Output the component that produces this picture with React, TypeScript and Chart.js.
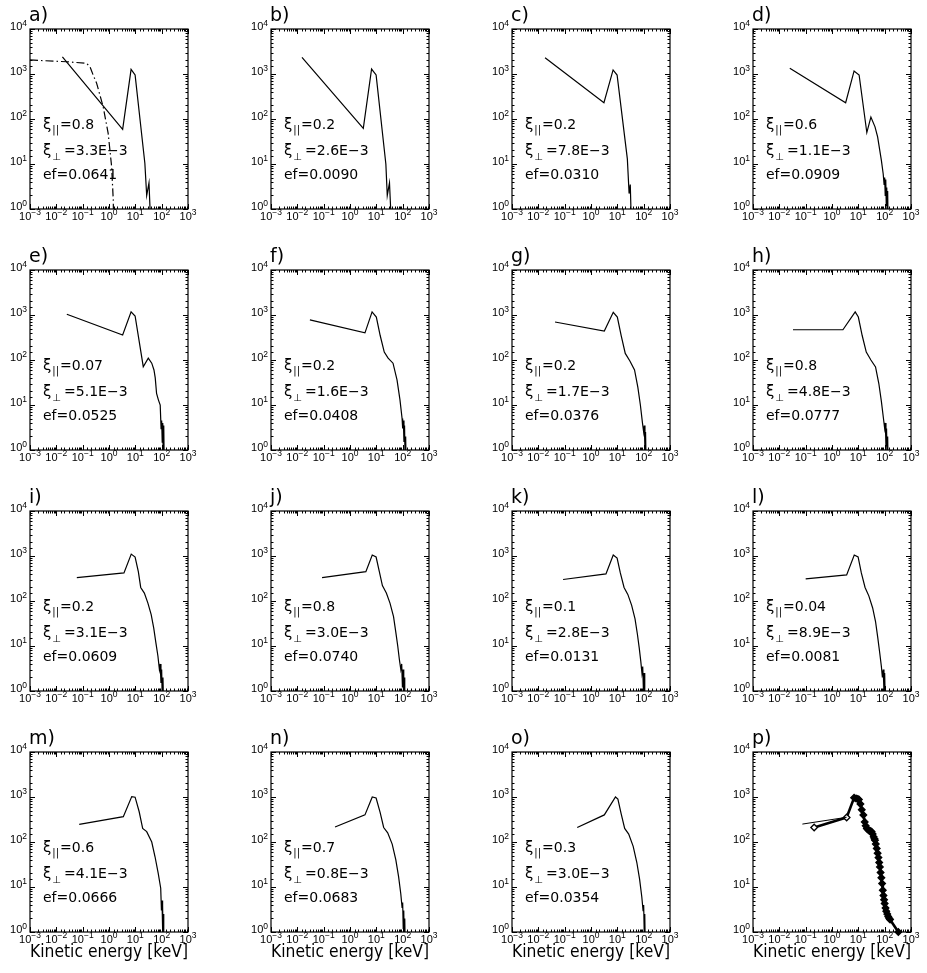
import React, { useEffect, useRef } from 'react';
import { Chart, registerables } from 'chart.js';

Chart.register(...registerables);

// ---- panel annotations ----
const panelLetters = ['a)', 'b)', 'c)', 'd)', 'e)', 'f)', 'g)', 'h)', 'i)', 'j)', 'k)', 'l)', 'm)', 'n)', 'o)', 'p)'];
const xiParallel = ['0.8', '0.2', '0.2', '0.6', '0.07', '0.2', '0.2', '0.8', '0.2', '0.8', '0.1', '0.04', '0.6', '0.7', '0.3', ''];
const xiPerp = ['3.3E−3', '2.6E−3', '7.8E−3', '1.1E−3', '5.1E−3', '1.6E−3', '1.7E−3', '4.8E−3', '3.1E−3', '3.0E−3', '2.8E−3', '8.9E−3', '4.1E−3', '0.8E−3', '3.0E−3', ''];
const efficiency = ['0.0641', '0.0090', '0.0310', '0.0909', '0.0525', '0.0408', '0.0376', '0.0777', '0.0609', '0.0740', '0.0131', '0.0081', '0.0666', '0.0683', '0.0354', ''];

// ---- axis tick labels (base 10 with exponent) ----
const tickBase = '10';
const xTickExponents = [-3, -2, -1, 0, 1, 2, 3];
const xTickExpText = ['−3', '−2', '−1', '0', '1', '2', '3'];
const yTickExponents = [0, 1, 2, 3, 4];
const yTickExpText = ['0', '1', '2', '3', '4'];
const xAxisTitle = 'Kinetic energy [keV]';

// ---- spectra: energy [keV] and counts ----
const aEnergy = [0.017, 3.3, 6.9, 9.8, 23, 27, 33, 38];
const aCounts = [2400, 59, 1270, 950, 10.4, 2.0, 3.8, 0.5];
const aModelEnergy = [0.001, 0.025, 0.14, 0.19, 0.25, 0.34, 0.6, 0.93, 1.26, 1.45, 1.5];
const aModelCounts = [2050, 1870, 1730, 1450, 950, 620, 187, 48, 8.7, 1.6, 0.5];

const bEnergy = [0.015, 3.2, 6.6, 9.8, 23, 26, 31.6, 37];
const bCounts = [2350, 62, 1290, 950, 10, 2, 3.8, 0.5];

const cEnergy = [0.018, 3.1, 6.9, 9.8, 24, 28, 31, 34];
const cCounts = [2300, 230, 1230, 950, 13, 2.2, 3.5, 0.5];

const dEnergy = [0.025, 3.3, 6.9, 10.7, 21, 30, 43, 54, 75, 88, 95, 100, 105, 110, 115, 120, 125, 130, 135];
const dCounts = [1340, 230, 1170, 950, 50, 110, 67, 40, 12, 6, 3.5, 5, 2, 4.5, 1.2, 3, 0.5, 2.5, 0.5];

const eEnergy = [0.025, 3.3, 6.9, 9.8, 20, 31, 42, 51, 57, 64, 75, 88, 95, 100, 105, 110, 115, 120, 125];
const eCounts = [1040, 360, 1180, 950, 71, 110, 85, 60, 40, 18, 13, 10, 3, 4.5, 1.5, 4, 0.5, 3.5, 0.5];

const fEnergy = [0.03, 3.7, 6.9, 10, 14, 20, 28, 43, 61, 79, 95, 100, 106, 112, 118, 124, 130, 135];
const fCounts = [780, 400, 1170, 900, 350, 150, 110, 85, 36, 13, 5, 3, 4.5, 1.5, 3.5, 0.5, 2, 0.5];

const gEnergy = [0.043, 3.2, 7, 10, 14, 20, 30, 45, 60, 75, 90, 100, 106, 112, 118, 124];
const gCounts = [700, 440, 1150, 900, 350, 140, 95, 60, 25, 10, 4, 2.5, 3.5, 1, 2.5, 0.5];

const hEnergy = [0.033, 2.6, 7.6, 10, 14, 20, 30, 45, 60, 75, 90, 100, 106, 112, 118, 124, 130, 135];
const hCounts = [470, 470, 1170, 900, 350, 150, 100, 70, 30, 12, 5, 3, 4, 1.2, 3, 0.5, 2, 0.5];

const iEnergy = [0.06, 3.7, 7, 9.8, 13, 16, 22, 30, 40, 50, 60, 72, 82, 88, 94, 100, 106, 112, 118];
const iCounts = [330, 420, 1100, 950, 450, 200, 150, 90, 50, 25, 12, 6, 3, 4, 1.5, 3, 0.5, 2, 0.5];

const jEnergy = [0.087, 4, 7, 9.8, 13, 17, 24, 33, 45, 55, 65, 75, 85, 92, 98, 104, 110, 115, 120];
const jCounts = [330, 450, 1050, 950, 450, 220, 150, 90, 45, 20, 10, 5, 3, 4, 1.2, 3, 0.5, 2, 0.5];

const kEnergy = [0.087, 3.7, 7, 9.8, 13, 18, 25, 35, 47, 58, 68, 78, 86, 92, 98, 104, 110];
const kCounts = [300, 400, 1050, 900, 420, 200, 140, 80, 40, 18, 9, 4.5, 2.5, 3.5, 1, 2.5, 0.5];

const lEnergy = [0.1, 3.6, 7, 9.8, 13, 18, 25, 35, 45, 55, 65, 75, 82, 88, 94, 100, 106];
const lCounts = [310, 380, 1050, 950, 420, 200, 130, 70, 35, 15, 7, 3.5, 2, 3, 1, 2.5, 0.5];

const mEnergy = [0.074, 3.5, 7.3, 9.8, 14, 19, 27, 42, 56, 74, 92, 98, 103, 107, 110, 114, 118, 122];
const mCounts = [247, 365, 1020, 990, 470, 200, 170, 100, 47, 20, 9.4, 3, 5, 1.2, 4, 0.5, 2.5, 0.5];

const nEnergy = [0.27, 3.7, 7, 9.8, 14, 19, 27, 40, 55, 70, 85, 95, 100, 105, 110, 115, 120, 125];
const nCounts = [215, 400, 1000, 950, 450, 210, 160, 90, 40, 17, 7, 3.5, 4.5, 1.2, 3, 0.5, 2, 0.5];

const oEnergy = [0.3, 3.2, 8.5, 10.5, 14, 19, 27, 40, 55, 70, 85, 95, 100, 105, 110, 115];
const oCounts = [210, 400, 1000, 900, 420, 200, 150, 80, 35, 15, 6, 3, 4, 1, 2.5, 0.5];

const pModelEnergy = [0.075, 3.6];
const pModelCounts = [250, 354];
const pDataEnergy = [0.21, 3.6, 6.9, 8.2, 9.5, 10.5, 12, 13.5, 15.5, 17.5, 19, 21, 23, 25.5, 28, 30, 32, 35, 38, 41, 43, 46, 50, 54, 58, 62, 66, 70, 75, 80, 85, 90, 95, 100, 108, 115, 125, 136, 150, 160, 330];
const pDataCounts = [210, 350, 960, 930, 900, 880, 700, 520, 400, 280, 230, 200, 190, 180, 175, 172, 170, 150, 130, 118, 110, 90, 72, 56, 45, 35, 28, 21, 16, 12, 8.5, 6.5, 5.2, 4.3, 3.4, 2.9, 2.5, 2.2, 2, 1.9, 1];

type Kind = 'solid' | 'dashdot' | 'thin' | 'marked';
type Series = { energy: number[]; counts: number[]; kind: Kind };

const panelSeries: Series[][] = [
  [{ energy: aEnergy, counts: aCounts, kind: 'solid' }, { energy: aModelEnergy, counts: aModelCounts, kind: 'dashdot' }],
  [{ energy: bEnergy, counts: bCounts, kind: 'solid' }],
  [{ energy: cEnergy, counts: cCounts, kind: 'solid' }],
  [{ energy: dEnergy, counts: dCounts, kind: 'solid' }],
  [{ energy: eEnergy, counts: eCounts, kind: 'solid' }],
  [{ energy: fEnergy, counts: fCounts, kind: 'solid' }],
  [{ energy: gEnergy, counts: gCounts, kind: 'solid' }],
  [{ energy: hEnergy, counts: hCounts, kind: 'solid' }],
  [{ energy: iEnergy, counts: iCounts, kind: 'solid' }],
  [{ energy: jEnergy, counts: jCounts, kind: 'solid' }],
  [{ energy: kEnergy, counts: kCounts, kind: 'solid' }],
  [{ energy: lEnergy, counts: lCounts, kind: 'solid' }],
  [{ energy: mEnergy, counts: mCounts, kind: 'solid' }],
  [{ energy: nEnergy, counts: nCounts, kind: 'solid' }],
  [{ energy: oEnergy, counts: oCounts, kind: 'solid' }],
  [{ energy: pModelEnergy, counts: pModelCounts, kind: 'thin' }, { energy: pDataEnergy, counts: pDataCounts, kind: 'marked' }],
];

// ---- layout ----
const CELL = 241;
const CANVAS_W = 205;
const PLOT_LEFT = 30;
const PLOT_TOP = 29;
const PLOT_RIGHT = 188;
const PLOT_BOTTOM = 209;
const FONT = "'DejaVu Sans', 'Liberation Sans', sans-serif";
const TICK_FONT = "'Liberation Sans', 'DejaVu Sans', sans-serif";

const isDecade = (v: number) => {
  const e = Math.log10(v);
  return Math.abs(e - Math.round(e)) < 1e-6;
};

function datasetFor(s: Series) {
  const data = s.energy.map((e, i) => ({ x: e, y: s.counts[i] }));
  const base: any = {
    data,
    borderColor: '#000',
    borderWidth: 1.2,
    pointRadius: 0,
    tension: 0,
    fill: false,
  };
  if (s.kind === 'dashdot') base.borderDash = [8, 3, 1.5, 3];
  if (s.kind === 'thin') base.borderWidth = 1;
  if (s.kind === 'marked') {
    base.borderWidth = 2.6;
    base.pointRadius = 3.3;
    base.pointStyle = 'rectRot';
    // the first two (isolated) markers stay open, the dense run reads as solid
    base.pointBackgroundColor = data.map((_, i) => (i < 2 ? '#fff' : '#000'));
    base.pointBorderColor = '#000';
    base.pointBorderWidth = 1.3;
    base.clip = 6;
  }
  return base;
}

// Box frame with inward major/minor tick marks on all four sides
const frameTicks = {
  id: 'frameTicks',
  afterDraw(chart: any) {
    const { ctx, chartArea } = chart;
    const { left, right, top, bottom } = chartArea;
    const xs = chart.scales.x;
    const ys = chart.scales.y;
    ctx.save();
    ctx.strokeStyle = '#000';
    ctx.lineWidth = 1.2;
    ctx.strokeRect(left, top, right - left, bottom - top);
    ctx.lineWidth = 1;
    ctx.beginPath();
    for (const t of xs.ticks) {
      const px = Math.round(xs.getPixelForValue(t.value)) + 0.5;
      const len = isDecade(t.value) ? 5 : 2.5;
      ctx.moveTo(px, bottom);
      ctx.lineTo(px, bottom - len);
      ctx.moveTo(px, top);
      ctx.lineTo(px, top + len);
    }
    for (const t of ys.ticks) {
      const py = Math.round(ys.getPixelForValue(t.value)) + 0.5;
      const len = isDecade(t.value) ? 5 : 2.5;
      ctx.moveTo(left, py);
      ctx.lineTo(left + len, py);
      ctx.moveTo(right, py);
      ctx.lineTo(right - len, py);
    }
    ctx.stroke();
    ctx.restore();
  },
};

// Decade labels "10" with raised exponent, placed at the scales' decade positions
const decadeLabels = {
  id: 'decadeLabels',
  afterDraw(chart: any) {
    const { ctx, chartArea } = chart;
    const { left, bottom } = chartArea;
    const xs = chart.scales.x;
    const ys = chart.scales.y;
    const baseFont = `11px ${TICK_FONT}`;
    const expFont = `8.5px ${TICK_FONT}`;
    ctx.save();
    ctx.fillStyle = '#000';
    ctx.textBaseline = 'alphabetic';
    ctx.textAlign = 'left';
    ctx.font = baseFont;
    const wb = ctx.measureText(tickBase).width;

    xTickExponents.forEach((e, i) => {
      const px = xs.getPixelForValue(Math.pow(10, e));
      ctx.font = expFont;
      const we = ctx.measureText(xTickExpText[i]).width;
      const x0 = px - (wb + we) / 2;
      ctx.font = baseFont;
      ctx.fillText(tickBase, x0, bottom + 11);
      ctx.font = expFont;
      ctx.fillText(xTickExpText[i], x0 + wb, bottom + 6);
    });

    yTickExponents.forEach((e, i) => {
      const py = ys.getPixelForValue(Math.pow(10, e));
      ctx.font = expFont;
      const we = ctx.measureText(yTickExpText[i]).width;
      const xr = left - 3;
      ctx.fillText(yTickExpText[i], xr - we, py - 3.5);
      ctx.font = baseFont;
      ctx.fillText(tickBase, xr - we - wb, py + 1);
    });
    ctx.restore();
  },
};

function makeLabelPlugin(index: number) {
  return {
    id: 'panelText',
    afterDraw(chart: any) {
      const { ctx, chartArea } = chart;
      const { left, top } = chartArea;
      ctx.save();
      ctx.fillStyle = '#000';
      ctx.textBaseline = 'alphabetic';
      ctx.textAlign = 'left';
      ctx.font = `19px ${FONT}`;
      ctx.fillText(panelLetters[index], left - 1, top - 8);

      if (xiParallel[index]) {
        const x0 = left + 13;
        const big = `14px ${FONT}`;
        const small = `10px ${FONT}`;
        // line 1: xi parallel
        let y = top + 100;
        ctx.font = `15px ${FONT}`;
        ctx.fillText('ξ', x0, y);
        let x = x0 + ctx.measureText('ξ').width + 1;
        ctx.font = small;
        ctx.fillText('||', x, y + 4);
        x += ctx.measureText('||').width + 1;
        ctx.font = big;
        ctx.fillText('=' + xiParallel[index], x, y);
        // line 2: xi perpendicular
        y = top + 126;
        ctx.font = `15px ${FONT}`;
        ctx.fillText('ξ', x0, y);
        x = x0 + ctx.measureText('ξ').width + 1;
        ctx.font = small;
        ctx.fillText('⊥', x, y + 5);
        x += ctx.measureText('⊥').width + 3;
        ctx.font = big;
        ctx.fillText('=' + xiPerp[index], x, y);
        // line 3: efficiency
        y = top + 150;
        ctx.fillText('ef=' + efficiency[index], x0, y);
      }
      ctx.restore();
    },
  };
}

function Panel({ index }: { index: number }) {
  const ref = useRef<HTMLCanvasElement | null>(null);
  const row = Math.floor(index / 4);
  const col = index % 4;
  const lastRow = row === 3;
  const height = lastRow ? 250 : CELL;

  useEffect(() => {
    if (!ref.current) return;
    const xHeight = height - PLOT_BOTTOM;
    const chart = new Chart(ref.current, {
      type: 'line',
      data: { datasets: panelSeries[index].map(datasetFor) },
      plugins: [frameTicks, decadeLabels, makeLabelPlugin(index)],
      options: {
        animation: false,
        responsive: false,
        events: [],
        layout: { padding: { left: 0, top: PLOT_TOP, right: CANVAS_W - PLOT_RIGHT, bottom: 0 } },
        plugins: { legend: { display: false }, tooltip: { enabled: false }, title: { display: false } },
        scales: {
          x: {
            type: 'logarithmic',
            position: 'bottom',
            min: 0.001,
            max: 1000,
            grid: { display: false, drawTicks: false },
            border: { display: false },
            ticks: { display: false, autoSkip: false, maxRotation: 0 },
            title: lastRow
              ? { display: true, text: xAxisTitle, color: '#000', font: { family: FONT, size: 17 }, padding: { top: 0, bottom: 10 } }
              : { display: false },
            afterFit: (s: any) => {
              s.height = xHeight;
            },
          },
          y: {
            type: 'logarithmic',
            position: 'left',
            min: 1,
            max: 10000,
            grid: { display: false, drawTicks: false },
            border: { display: false },
            ticks: { display: false, autoSkip: false },
            afterFit: (s: any) => {
              s.width = PLOT_LEFT;
            },
          },
        },
      } as any,
    });
    return () => chart.destroy();
  }, [index, height]);

  return (
    <canvas
      ref={ref}
      width={CANVAS_W}
      height={height}
      style={{ position: 'absolute', left: col * CELL, top: row * CELL, width: CANVAS_W, height, display: 'block' }}
    />
  );
}

export default function App() {
  return (
    <div
      style={{
        position: 'absolute',
        left: 0,
        top: 0,
        width: 927,
        height: 973,
        overflow: 'hidden',
        background: '#fff',
      }}
    >
      {panelLetters.map((_, i) => (
        <Panel key={i} index={i} />
      ))}
    </div>
  );
}
